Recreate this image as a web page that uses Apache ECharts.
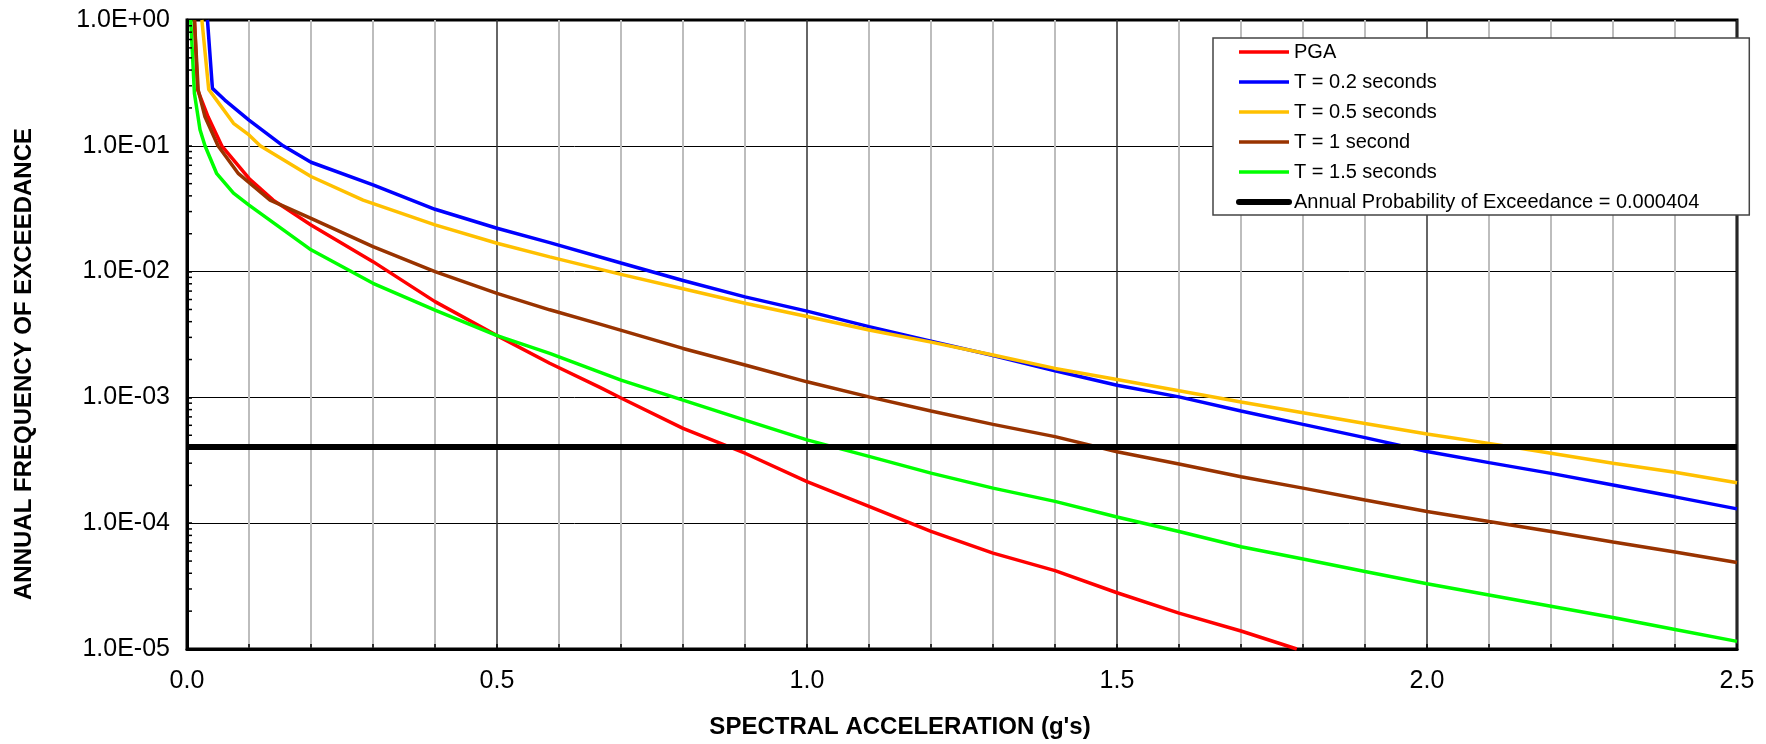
<!DOCTYPE html>
<html>
<head>
<meta charset="utf-8">
<script src="https://cdn.jsdelivr.net/npm/echarts@6/dist/echarts.min.js"></script>
<style>
html,body{margin:0;padding:0;background:#fff;}
#chart{width:1766px;height:744px;}
</style>
</head>
<body>
<div id="chart"></div>
<script>
// ---- data (spectral acceleration in g, annual frequency of exceedance) ----
const seriesNames = ['PGA', 'T = 0.2 seconds', 'T = 0.5 seconds', 'T = 1 second', 'T = 1.5 seconds', 'Annual Probability of Exceedance = 0.000404'];

const pgaSa   = [0.012, 0.017, 0.034, 0.056, 0.1, 0.139, 0.2, 0.3, 0.4, 0.5, 0.585, 0.666, 0.7, 0.8, 0.9, 1.0, 1.1, 1.2, 1.3, 1.4, 1.5, 1.6, 1.7, 1.79];
const pgaFreq = [1.0, 0.28, 0.17, 0.1, 0.055, 0.037, 0.0235, 0.012, 0.00577, 0.0031, 0.00187, 0.0012, 0.00099, 5.67e-4, 3.6e-4, 2.14e-4, 1.36e-4, 8.6e-5, 5.78e-5, 4.2e-5, 2.8e-5, 1.93e-5, 1.39e-5, 1.0e-5];

const t02Sa   = [0.033, 0.041, 0.061, 0.1, 0.155, 0.2, 0.3, 0.4, 0.5, 0.585, 0.7, 0.8, 0.9, 1.0, 1.1, 1.2, 1.3, 1.4, 1.5, 1.6, 1.7, 1.8, 1.9, 2.0, 2.1, 2.2, 2.3, 2.4, 2.5];
const t02Freq = [1.0, 0.286, 0.231, 0.16, 0.1, 0.074, 0.049, 0.0313, 0.0221, 0.017, 0.0117, 0.0085, 0.0063, 0.00485, 0.00365, 0.0028, 0.00215, 0.00163, 0.00125, 0.00101, 7.8e-4, 6.1e-4, 4.79e-4, 3.71e-4, 3.03e-4, 2.49e-4, 2.01e-4, 1.62e-4, 1.3e-4];

const t05Sa   = [0.024, 0.035, 0.075, 0.1, 0.118, 0.2, 0.284, 0.4, 0.5, 0.585, 0.7, 0.8, 0.9, 1.0, 1.1, 1.2, 1.3, 1.4, 1.5, 1.6, 1.7, 1.8, 1.9, 2.0, 2.1, 2.2, 2.3, 2.4, 2.5];
const t05Freq = [1.0, 0.281, 0.151, 0.122, 0.1, 0.057, 0.037, 0.0235, 0.0168, 0.0131, 0.0095, 0.0073, 0.0056, 0.0044, 0.00343, 0.00275, 0.00217, 0.0017, 0.00139, 0.00113, 9.2e-4, 7.56e-4, 6.2e-4, 5.12e-4, 4.31e-4, 3.6e-4, 3.0e-4, 2.54e-4, 2.1e-4];

const t10Sa   = [0.012, 0.018, 0.029, 0.05, 0.083, 0.134, 0.2, 0.3, 0.4, 0.5, 0.585, 0.666, 0.8, 0.9, 1.0, 1.1, 1.2, 1.3, 1.4, 1.5, 1.6, 1.7, 1.8, 1.9, 2.0, 2.1, 2.2, 2.3, 2.4, 2.5];
const t10Freq = [1.0, 0.278, 0.17, 0.1, 0.06, 0.037, 0.0265, 0.0158, 0.01, 0.00672, 0.00497, 0.00382, 0.00245, 0.00181, 0.00133, 0.00101, 7.8e-4, 6.1e-4, 4.88e-4, 3.7e-4, 2.96e-4, 2.34e-4, 1.9e-4, 1.53e-4, 1.24e-4, 1.03e-4, 8.6e-5, 7.1e-5, 5.9e-5, 4.87e-5];

const t15Sa   = [0.006, 0.012, 0.021, 0.029, 0.048, 0.075, 0.1, 0.2, 0.3, 0.4, 0.5, 0.585, 0.7, 0.8, 0.9, 1.0, 1.1, 1.2, 1.3, 1.4, 1.5, 1.6, 1.7, 1.8, 1.9, 2.0, 2.1, 2.2, 2.3, 2.4, 2.5];
const t15Freq = [1.0, 0.26, 0.134, 0.1, 0.06, 0.042, 0.0338, 0.0149, 0.00807, 0.00495, 0.0031, 0.00224, 0.00137, 9.5e-4, 6.6e-4, 4.6e-4, 3.4e-4, 2.5e-4, 1.9e-4, 1.49e-4, 1.12e-4, 8.6e-5, 6.5e-5, 5.2e-5, 4.13e-5, 3.3e-5, 2.69e-5, 2.19e-5, 1.78e-5, 1.43e-5, 1.15e-5];

const thresholdSa   = [0, 2.5];
const thresholdFreq = [0.000404, 0.000404];

const xTickLabels = ['0.0', '0.5', '1.0', '1.5', '2.0', '2.5'];
const yDecades = [1e-5, 1e-4, 1e-3, 1e-2, 1e-1, 1];
const yMantissas = [2, 3, 4, 5, 6, 7, 8, 9];

const colors = ['#ff0000', '#0000ff', '#ffc000', '#993300', '#00ff00', '#000000'];
const lineWidths = [3.5, 3.5, 3.5, 3.5, 3.5, 6];

// ---- build ----
const zip = (xs, ys) => xs.map((x, i) => [x, ys[i]]);
const yMinor = [];
yDecades.slice(0, -1).forEach(d => yMantissas.forEach(m => yMinor.push([0, m * d])));

function yLabel(v) {
  const e = Math.round(Math.log10(v));
  return '1.0E' + (e < 0 ? '-' : '+') + String(Math.abs(e)).padStart(2, '0');
}

const FONT = '"Liberation Sans", Arial, sans-serif';
const lineSeries = (i, data) => ({
  name: seriesNames[i], type: 'line', data: data, symbol: 'none', smooth: false,
  lineStyle: { color: colors[i], width: lineWidths[i] }, itemStyle: { color: colors[i] },
  clip: true, z: 3 + i, animation: false
});

const chart = echarts.init(document.getElementById('chart'), null, { renderer: 'canvas' });
chart.setOption({
  animation: false,
  backgroundColor: '#fff',
  grid: { left: 187, right: 29, top: 20, bottom: 95, show: true, borderColor: '#000', borderWidth: 3, backgroundColor: 'transparent' },
  xAxis: {
    type: 'value', min: 0, max: 2.5, interval: 0.5,
    axisLine: { lineStyle: { color: '#000', width: 3 } },
    axisTick: { inside: true, length: 5, lineStyle: { color: '#000', width: 1.5 } },
    minorTick: { show: true, splitNumber: 5, length: 5, lineStyle: { color: '#000', width: 1.5 } },
    splitLine: { show: true, lineStyle: { color: '#333', width: 1.5 } },
    minorSplitLine: { show: true, lineStyle: { color: '#bdbdbd', width: 2 } },
    axisLabel: { fontSize: 25, margin: 20, color: '#000', fontFamily: FONT,
      formatter: v => xTickLabels[Math.round(v / 0.5)] }
  },
  yAxis: {
    type: 'log', logBase: 10, min: 1e-5, max: 1,
    axisLine: { lineStyle: { color: '#000', width: 3 } },
    axisTick: { inside: true, length: 5, lineStyle: { color: '#000', width: 1.5 } },
    splitLine: { show: true, lineStyle: { color: '#000', width: 1 } },
    axisLabel: { fontSize: 25, margin: 17, color: '#000', fontFamily: FONT, formatter: yLabel }
  },
  legend: {
    data: seriesNames.map((n, i) => ({ name: n, lineStyle: { width: lineWidths[i], color: colors[i], cap: i === 5 ? 'round' : 'butt' } })),
    orient: 'vertical', left: 1213, top: 38,
    padding: [4, 50, 3, 23], itemWidth: 50, itemHeight: 18, itemGap: 10, itemTextGap: 3,
    itemStyle: { opacity: 0 },
    textStyle: { fontSize: 20, lineHeight: 18, color: '#000', fontFamily: FONT },
    backgroundColor: '#fff', borderColor: '#444', borderWidth: 1.5, borderRadius: 0,
    selectedMode: false
  },
  graphic: [
    { type: 'text', x: 900, y: 727, z: 100, style: { text: "SPECTRAL ACCELERATION (g's)", font: 'bold 24px ' + FONT, fill: '#000', textAlign: 'center', textVerticalAlign: 'middle' } },
    { type: 'text', x: 24, y: 364, rotation: Math.PI / 2, z: 100, style: { text: 'ANNUAL FREQUENCY OF EXCEEDANCE', font: 'bold 24px ' + FONT, fill: '#000', textAlign: 'center', textVerticalAlign: 'middle' } }
  ],
  series: [
    lineSeries(0, zip(pgaSa, pgaFreq)),
    lineSeries(1, zip(t02Sa, t02Freq)),
    lineSeries(2, zip(t05Sa, t05Freq)),
    lineSeries(3, zip(t10Sa, t10Freq)),
    lineSeries(4, zip(t15Sa, t15Freq)),
    lineSeries(5, zip(thresholdSa, thresholdFreq)),
    {
      type: 'custom', name: 'yMinorTicks', data: yMinor, silent: true, z: 10, animation: false,
      renderItem: (params, api) => {
        const p = api.coord([0, api.value(1)]);
        return { type: 'line', shape: { x1: p[0], y1: p[1], x2: p[0] + 5, y2: p[1] }, style: { stroke: '#000', lineWidth: 1.5 } };
      }
    }
  ]
});
</script>
</body>
</html>
